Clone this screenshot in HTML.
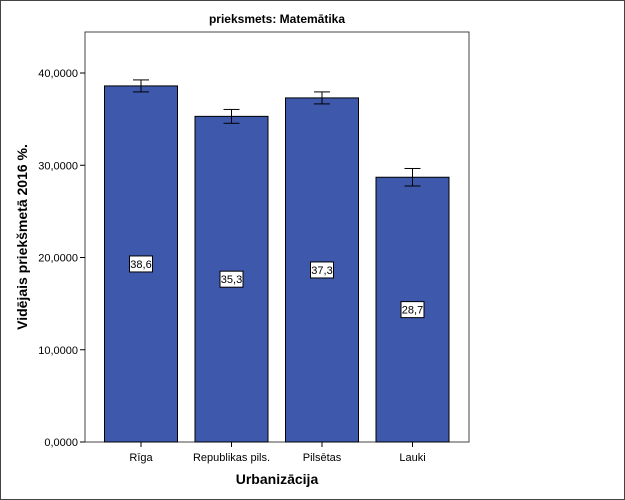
<!DOCTYPE html>
<html><head><meta charset="utf-8"><style>
html,body{margin:0;padding:0;background:#fff}
svg{display:block;font-family:"Liberation Sans",Arial,sans-serif}
</style></head><body>
<svg id="c" width="625" height="500" xmlns="http://www.w3.org/2000/svg">
<rect x="0.5" y="0.5" width="624" height="499" fill="#fff" stroke="#444"/>
<text x="277" y="23" text-anchor="middle" font-size="12" font-weight="bold">prieksmets: Matemātika</text>
<rect x="85" y="32" width="384" height="410" fill="#fff" stroke="#444"/>
<text transform="translate(27,237) rotate(-90)" text-anchor="middle" font-size="14" font-weight="bold">Vidējais priekšmetā 2016 %.</text>
<text x="277" y="484" text-anchor="middle" font-size="14" font-weight="bold">Urbanizācija</text>
<g id="marks"></g>
</svg>
<script>
const categories=["Rīga","Republikas pils.","Pilsētas","Lauki"];
const means=[38.6,35.3,37.3,28.7];
const errs=[0.65,0.75,0.65,0.95];
const labels=["38,6","35,3","37,3","28,7"];
const yTicks=[0,10,20,30,40];
const yTickLabels=["0,0000","10,0000","20,0000","30,0000","40,0000"];
const NS="http://www.w3.org/2000/svg";
const g=document.getElementById('marks');
const y=v=>442-v*9.225;
const xc=i=>141+i*90.5;
function el(t,a){const e=document.createElementNS(NS,t);for(const k in a)e.setAttribute(k,a[k]);g.appendChild(e);return e;}
yTicks.forEach((v,i)=>{
 const t=el('line',{x1:80,x2:85,y1:y(v),y2:y(v),stroke:'#000'});
 
 
 const l=el('text',{x:78,y:y(v)+4,'text-anchor':'end','font-size':11});
 l.textContent=yTickLabels[i];
 
 
});
categories.forEach((c,i)=>{
 const x=xc(i);
 const b=el('rect',{x:x-36.5,y:y(means[i]),width:73,height:442-y(means[i]),fill:'#3e58ac',stroke:'#000'});
 
 
 const e1=el('line',{x1:x,x2:x,y1:y(means[i]+errs[i]),y2:y(means[i]-errs[i]),stroke:'#000'});
 
 
 [means[i]+errs[i],means[i]-errs[i]].forEach(v=>{
  const c2=el('line',{x1:x-8,x2:x+8,y1:y(v),y2:y(v),stroke:'#000'});
  
  
 });
 const ly=y(means[i]/2);
 const bx=el('rect',{x:x-11.5,y:ly-8,width:23,height:16,fill:'#fff',stroke:'#000'});
 
 
 const vt=el('text',{x:x,y:ly+4,'text-anchor':'middle','font-size':11});
 vt.textContent=labels[i];
 
 
 const tk=el('line',{x1:x,x2:x,y1:442,y2:447,stroke:'#000'});
 
 
 const ct=el('text',{x:x,y:461,'text-anchor':'middle','font-size':11});
 ct.textContent=c;
 
 
});
</script>
</body></html>
